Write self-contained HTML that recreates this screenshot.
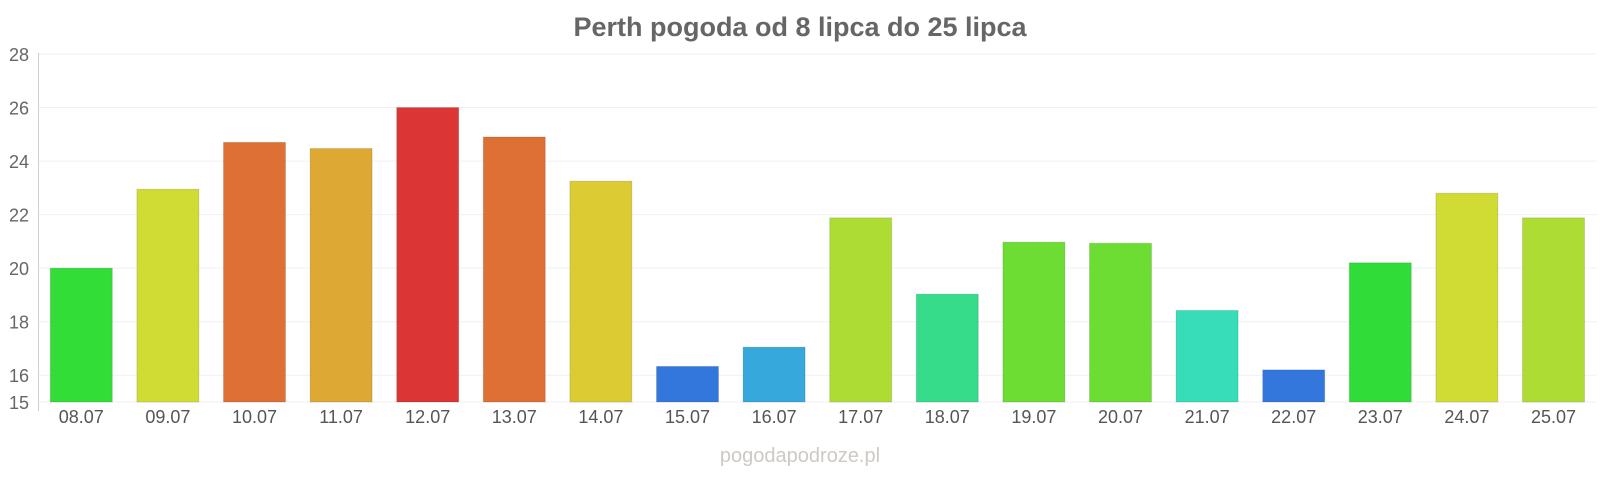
<!DOCTYPE html>
<html><head><meta charset="utf-8"><style>
body{margin:0;background:#fff;font-family:"Liberation Sans",sans-serif}
</style></head><body>
<svg width="1600" height="480" xmlns="http://www.w3.org/2000/svg" font-family="Liberation Sans, sans-serif">
<text x="800" y="36" text-anchor="middle" font-size="27" font-weight="bold" fill="#666">Perth pogoda od 8 lipca do 25 lipca</text>
<g id="grid"></g><g id="bars"></g><g id="xl"></g><g id="yl"></g>
<line x1="38.5" y1="53" x2="38.5" y2="411" stroke="#d8c8c8"/>
<text x="800" y="462" text-anchor="middle" font-size="20" fill="#cfc8c4">pogodapodroze.pl</text>
</svg>
<script>
const categories=["08.07","09.07","10.07","11.07","12.07","13.07","14.07","15.07","16.07","17.07","18.07","19.07","20.07","21.07","22.07","23.07","24.07","25.07"];
const temps=[20.0,22.95,24.7,24.47,26.0,24.9,23.25,16.33,17.05,21.88,19.03,20.97,20.93,18.42,16.2,20.2,22.8,21.88];
const colors=["#33dd38","#d0dc33","#de7035","#dea933","#dc3535","#de7035","#dccb33","#3377dd","#37a8dc","#addd33","#36dc8a","#6ddd33","#6ddd33","#36ddb8","#3377dd","#30dd38","#d0dc33","#addd33"];
const yTicks=[15,16,18,20,22,24,26,28];
const NS="http://www.w3.org/2000/svg";
const x0=38,band=86.6,bw=62,yBase=402,yMin=15,yMax=28,yTop=54;
const y=v=>yBase-(v-yMin)*(yBase-yTop)/(yMax-yMin);
const xc=i=>x0+band*(i+0.5);
function mk(t,a,p){const e=document.createElementNS(NS,t);for(const k in a)e.setAttribute(k,a[k]);document.getElementById(p).appendChild(e);return e;}
yTicks.forEach(v=>{
 const g=mk('line',{x1:38,x2:1597,y1:y(v),y2:y(v),stroke:'#f0f0f0'},'grid');
 
 
 const t=mk('text',{x:29,y:y(v)+7,'text-anchor':'end','font-size':18,fill:'#666'},'yl');
 
 
 t.textContent=v;
});
categories.forEach((c,i)=>{
 const r=mk('rect',{x:xc(i)-bw/2,y:y(temps[i]),width:bw,height:yBase-y(temps[i]),fill:colors[i],stroke:'rgba(0,0,0,0.12)','stroke-width':1},'bars');
 
 
 const t=mk('text',{x:xc(i),y:423,'text-anchor':'middle','font-size':18,fill:'#555'},'xl');
 
 
 t.textContent=c;
});
</script>
</body></html>
